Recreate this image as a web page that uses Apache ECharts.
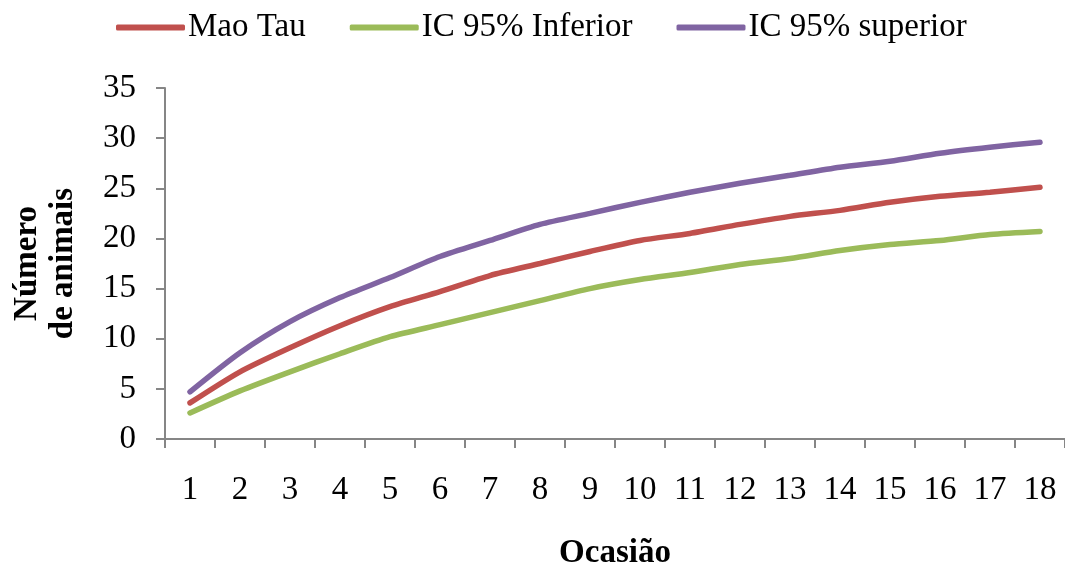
<!DOCTYPE html>
<html>
<head>
<meta charset="utf-8">
<script src="https://cdn.jsdelivr.net/npm/echarts@6/dist/echarts.min.js"></script>
<style>
html,body{margin:0;padding:0;background:#fff;}
#chart{width:1065px;height:568px;}
</style>
</head>
<body>
<div id="chart"></div>
<script>
const categories = ['1','2','3','4','5','6','7','8','9','10','11','12','13','14','15','16','17','18'];
const maoTau = [3.6, 6.7, 9.1, 11.3, 13.2, 14.7, 16.3, 17.5, 18.7, 19.8, 20.5, 21.4, 22.2, 22.8, 23.6, 24.2, 24.6, 25.1];
const icInferior = [2.6, 4.8, 6.7, 8.5, 10.2, 11.4, 12.6, 13.8, 15.0, 15.9, 16.6, 17.4, 18.0, 18.8, 19.4, 19.8, 20.4, 20.7];
const icSuperior = [4.7, 8.6, 11.7, 14.1, 16.1, 18.2, 19.8, 21.4, 22.5, 23.6, 24.6, 25.5, 26.3, 27.1, 27.7, 28.5, 29.1, 29.6];
const yTicks = { min: 0, max: 35, interval: 5 };

const FONT = '"Liberation Serif", "Times New Roman", serif';
const chart = echarts.init(document.getElementById('chart'));
const mk = (name, data, color) => ({
  name, type: 'line', data, smooth: 0.25, symbol: 'none',
  lineStyle: { width: 5.5, color, cap: 'round' }, itemStyle: { color }
});
chart.setOption({
  animation: false,
  textStyle: { fontFamily: FONT },
  legend: {
    left: 111, top: 6, itemWidth: 69, itemHeight: 6, itemGap: 44,
    icon: 'roundRect',
    textStyle: { fontFamily: FONT, fontSize: 33, color: '#000', padding: [0, 0, 0, -2] },
    data: ['Mao Tau', 'IC 95% Inferior', 'IC 95% superior']
  },
  grid: { left: 165, right: 0, top: 88, bottom: 129, containLabel: false, outerBoundsMode: 'none' },
  xAxis: {
    type: 'category', data: categories, boundaryGap: true,
    name: 'Ocasião', nameLocation: 'middle', nameGap: 98,
    nameTextStyle: { fontFamily: FONT, fontSize: 33, fontWeight: 'bold', color: '#000' },
    axisLine: { lineStyle: { color: '#868686', width: 2 } },
    axisTick: { show: true, interval: 0, length: 9, lineStyle: { color: '#868686', width: 2 } },
    axisLabel: { interval: 0, margin: 35, fontFamily: FONT, fontSize: 33, color: '#000' }
  },
  yAxis: {
    type: 'value', min: yTicks.min, max: yTicks.max, interval: yTicks.interval,
    name: 'Número\nde animais', nameLocation: 'middle', nameGap: 84, nameRotate: 90,
    nameTextStyle: { fontFamily: FONT, fontSize: 33, fontWeight: 'bold', color: '#000', lineHeight: 36 },
    splitLine: { show: false },
    axisLine: { show: true, lineStyle: { color: '#868686', width: 2 } },
    axisTick: { show: true, length: 9, lineStyle: { color: '#868686', width: 2 } },
    axisLabel: { margin: 29, fontFamily: FONT, fontSize: 33, color: '#000' }
  },
  series: [
    mk('Mao Tau', maoTau, '#C0504D'),
    mk('IC 95% Inferior', icInferior, '#9BBB59'),
    mk('IC 95% superior', icSuperior, '#8064A2')
  ]
});
</script>
</body>
</html>
